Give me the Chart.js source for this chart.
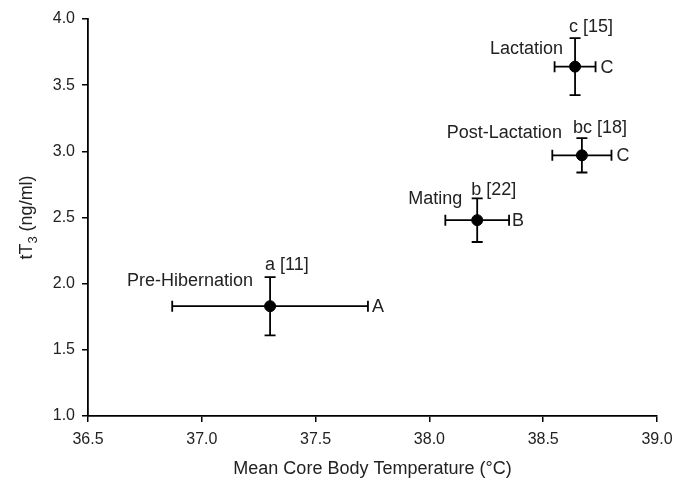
<!DOCTYPE html>
<html>
<head>
<meta charset="utf-8">
<script src="https://cdn.jsdelivr.net/npm/chart.js@4/dist/chart.umd.min.js"></script>
<style>
  html, body { margin: 0; padding: 0; background: #fff; }
  #wrap { width: 684px; height: 481px; }
</style>
</head>
<body>
<div id="wrap"><canvas id="chart" width="684" height="481"></canvas></div>
<script>
// values
const phases = ['Pre-Hibernation', 'Mating', 'Post-Lactation', 'Lactation'];
const meanTemp = [37.30, 38.21, 38.67, 38.64];
const tempErr = [0.43, 0.14, 0.13, 0.09];
const tt3 = [1.83, 2.48, 2.97, 3.64];
const tt3Err = [0.22, 0.165, 0.13, 0.215];
const tt3Letters = ['a', 'b', 'bc', 'c'];
const sampleSizes = [11, 22, 18, 15];
const tempLetters = ['A', 'B', 'C', 'C'];
const xTicks = [36.5, 37.0, 37.5, 38.0, 38.5, 39.0];
const yTicks = [1.0, 1.5, 2.0, 2.5, 3.0, 3.5, 4.0];

// label nudges in px: [name dx, name dy, top dx, top dy, letter dx]
const labelNudge = [
  [-17, -20, -5, -7, 4],
  [-15, -16, -6, -3, 3],
  [-20, -17, -9, -5, 5],
  [-12, -13, -6, -6, 5]
];

const FONT = "'Liberation Sans', Arial, sans-serif";
const TEXT = '#222';
Chart.defaults.font.family = FONT;

const errorBars = {
  id: 'errorBars',
  beforeDatasetsDraw(chart) {
    const { ctx, scales: { x, y } } = chart;
    const cap = 5.5;
    ctx.save();
    ctx.strokeStyle = '#000';
    ctx.lineWidth = 1.8;
    meanTemp.forEach((t, i) => {
      const px = x.getPixelForValue(t), py = y.getPixelForValue(tt3[i]);
      const x0 = x.getPixelForValue(t - tempErr[i]), x1 = x.getPixelForValue(t + tempErr[i]);
      const y0 = y.getPixelForValue(tt3[i] + tt3Err[i]), y1 = y.getPixelForValue(tt3[i] - tt3Err[i]);
      ctx.beginPath();
      ctx.moveTo(x0, py); ctx.lineTo(x1, py);
      ctx.moveTo(x0, py - cap); ctx.lineTo(x0, py + cap);
      ctx.moveTo(x1, py - cap); ctx.lineTo(x1, py + cap);
      ctx.moveTo(px, y0); ctx.lineTo(px, y1);
      ctx.moveTo(px - cap, y0); ctx.lineTo(px + cap, y0);
      ctx.moveTo(px - cap, y1); ctx.lineTo(px + cap, y1);
      ctx.stroke();
    });
    ctx.restore();
  },
  afterDatasetsDraw(chart) {
    const { ctx, scales: { x, y } } = chart;
    ctx.save();
    ctx.fillStyle = TEXT;
    ctx.font = '18px ' + FONT;
    meanTemp.forEach((t, i) => {
      const n = labelNudge[i];
      const px = x.getPixelForValue(t), py = y.getPixelForValue(tt3[i]);
      const top = y.getPixelForValue(tt3[i] + tt3Err[i]);
      const right = x.getPixelForValue(t + tempErr[i]);
      ctx.textBaseline = 'alphabetic';
      ctx.textAlign = 'right';
      ctx.fillText(phases[i], px + n[0], py + n[1]);
      ctx.textAlign = 'left';
      ctx.fillText(tt3Letters[i] + ' [' + sampleSizes[i] + ']', px + n[2], top + n[3]);
      ctx.textBaseline = 'middle';
      ctx.fillText(tempLetters[i], right + n[4], py + 1);
    });
    ctx.restore();
  },
  afterDraw(chart) {
    const { ctx, chartArea: a } = chart;
    ctx.save();
    ctx.fillStyle = TEXT;
    ctx.font = '18px ' + FONT;
    ctx.textAlign = 'center';
    ctx.textBaseline = 'alphabetic';
    ctx.fillText('Mean Core Body Temperature (°C)', (a.left + a.right) / 2, 474);
    // y title with subscript 3
    const parts = [['tT', 18, 0], ['3', 13, 5], [' (ng/ml)', 18, 0]];
    let total = 0;
    parts.forEach(p => { ctx.font = p[1] + 'px ' + FONT; total += ctx.measureText(p[0]).width; });
    ctx.translate(32, (a.top + a.bottom) / 2);
    ctx.rotate(-Math.PI / 2);
    ctx.textAlign = 'left';
    let cx = -total / 2;
    parts.forEach(p => {
      ctx.font = p[1] + 'px ' + FONT;
      ctx.fillText(p[0], cx, p[2]);
      cx += ctx.measureText(p[0]).width;
    });
    ctx.restore();
  }
};

const axisStyle = {
  grid: { display: true, drawOnChartArea: false, drawTicks: true, tickLength: 6, color: '#000', lineWidth: 1.5 },
  border: { display: true, color: '#000', width: 1.8 }
};

new Chart(document.getElementById('chart'), {
  type: 'scatter',
  data: {
    datasets: [{
      data: meanTemp.map((t, i) => ({ x: t, y: tt3[i] })),
      backgroundColor: '#000',
      borderColor: '#000',
      pointRadius: 5.5,
      pointHoverRadius: 5.5
    }]
  },
  options: {
    responsive: false,
    animation: false,
    layout: { padding: { left: 0, top: 19, right: 27, bottom: 0 } },
    plugins: { legend: { display: false }, tooltip: { enabled: false } },
    scales: {
      x: {
        type: 'linear', min: 36.5, max: 39.0,
        afterBuildTicks: s => { s.ticks = xTicks.map(v => ({ value: v })); },
        afterFit: s => { s.height = 65; },
        ticks: { color: TEXT, font: { size: 16 }, padding: 8, callback: v => v.toFixed(1) },
        ...axisStyle
      },
      y: {
        type: 'linear', min: 1.0, max: 4.0,
        afterBuildTicks: s => { s.ticks = yTicks.map(v => ({ value: v })); },
        afterFit: s => { s.width = 88; },
        ticks: { color: TEXT, font: { size: 16 }, padding: 7, callback: v => v.toFixed(1) },
        ...axisStyle
      }
    }
  },
  plugins: [errorBars]
});
</script>
</body>
</html>
